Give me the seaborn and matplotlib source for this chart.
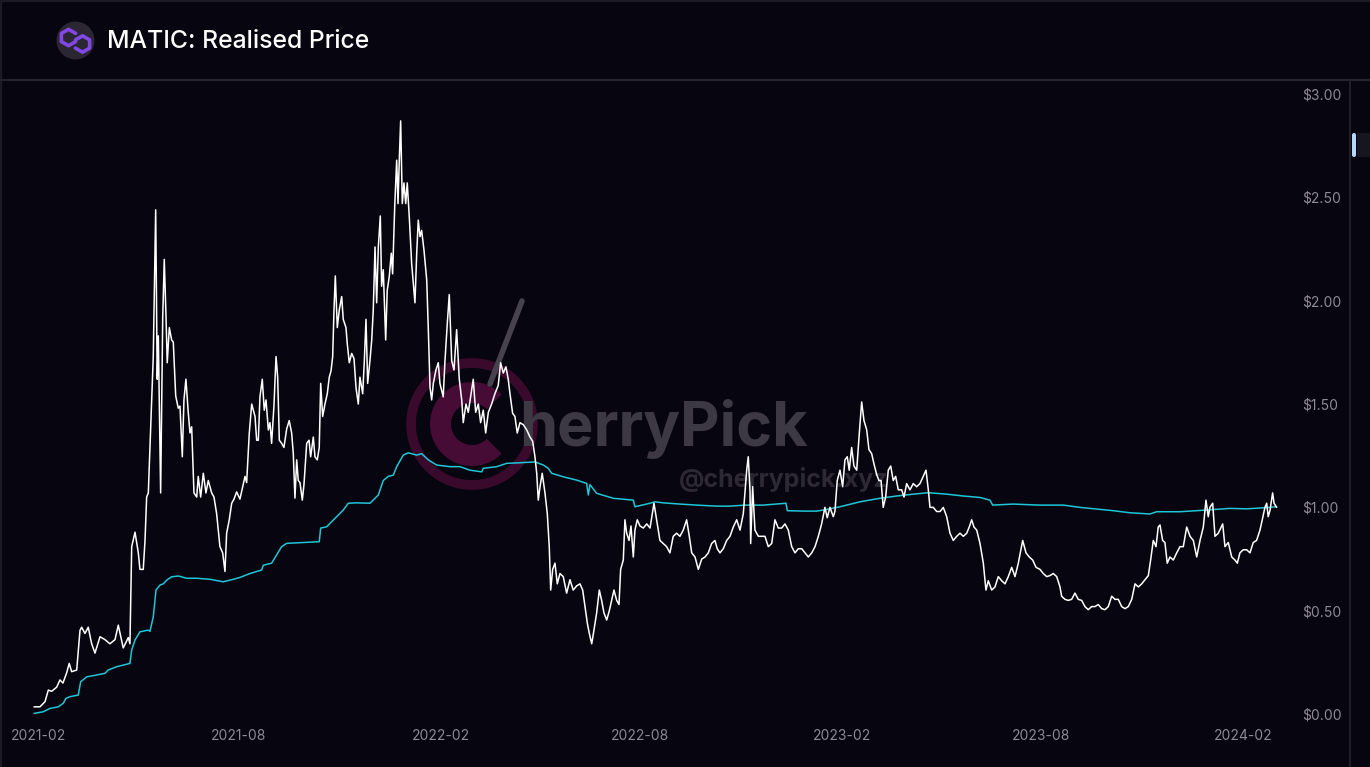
import numpy as np
import pandas as pd
import matplotlib
matplotlib.use('Agg')
import matplotlib.pyplot as plt
import matplotlib.patches as mpatches
from matplotlib.lines import Line2D
from matplotlib.ticker import FuncFormatter
import seaborn as sns

# ---------------------
# Data, days counted from 2021-02-01
# ---------------------
START = pd.Timestamp('2021-02-01')

price_day = [
    -4.5, 0.9, 5.5, 8.5, 11.5, 16.1, 19.1, 21.8, 25.2, 27.5, 29.7, 34.3, 37.3, 38.8, 41.8, 44.8,
    47.9, 50.9, 55.5, 60, 64.5, 69.1, 72.1, 76.6, 81.2, 82.7, 84.3, 87.3, 90.3, 91.8, 94.8, 96.4,
    97.9, 99.4, 102.5, 103.9, 106.1, 107.5, 108.5, 110.6, 112.5, 113.9, 115.5, 116.6, 118.5, 120.6,
    122.1, 124.3, 126.6, 128.2, 130.3, 131.8, 133.6, 135.7, 137.3, 138.8, 140.9, 143.4, 144.8, 147,
    149.4, 151.8, 153.9, 157, 159.1, 161.5, 164.5, 167, 169.1, 170.6, 173, 175.2, 177.3, 179.7, 182.7,
    187.3, 188.8, 191.2, 193.4, 196.4, 197.9, 199.4, 200.9, 203, 204.8, 206.4, 208.5, 210, 211.5,
    213.6, 215.5, 217, 218.5, 220.6, 222.7, 225.2, 227.5, 229.7, 231.2, 232.7, 234.3, 235.7, 237.3,
    239.4, 240.9, 243.4, 245.5, 247, 249.4, 250.9, 253, 254.8, 256.1, 257.9, 260, 262.1, 263.9,
    265.5, 267, 268.2, 269.4, 271.2, 273, 275.2, 276.6, 279.1, 280.3, 282.1, 284.3, 286.4, 288.2,
    290.3, 291.8, 294.3, 295.7, 297.3, 298.8, 300.9, 302.5, 303.9, 305.5, 307, 308.5, 310.3, 311.5,
    313, 315.2, 316.6, 318.5, 320.3, 321.5, 323.4, 325.2, 326.4, 327.5, 328.8, 330.3, 331.8, 333.4,
    334.8, 336.6, 338.8, 340.3, 341.8, 343.4, 344.8, 346.4, 347.9, 350, 352.5, 353.9, 355.5, 357,
    358.5, 360.9, 363, 364.5,
    367.5, 369.1, 371.2, 373, 375.2, 377.3, 379.7, 382.1, 384.3, 385.7, 388.2, 390.3, 393.4, 394.8,
    397, 399.4, 401.5, 403.9, 406.1, 408.5, 411.5, 414.5, 417.5, 419.7, 422.1, 424.5, 426.6, 428.2,
    430.6, 432.7, 434.8, 437.3, 440.3, 443.4, 446.4, 448.8, 450.9, 452.5, 453.9, 455.5, 457.5, 460,
    462.1, 463.9, 465.2, 467, 469.1, 471.2, 473.6, 476.6, 479.7, 482.7, 485.7, 488.8, 491.8, 494.3,
    496.4, 498.5, 500.3, 502.5, 504.5, 507, 509.4, 511.5, 513.6, 516.1, 518.5, 520.6, 522.7, 525.2,
    527.3, 528.8, 531.2, 532.7, 534.3, 536.4, 538.2, 540.3, 541.8, 543.9, 546.4,
    549.4, 552.5, 555.5, 559.1, 561.5, 564.5, 567.5, 570.6, 573.6, 576.6, 579.7, 582.7, 585.7, 588.8,
    591.2, 593.4, 596.4, 599.4, 602.5, 605.5, 608.5, 611.5, 614.5, 616.6, 619.1, 622.1, 625.2, 628.2,
    631.2, 634.3, 637.3, 640.3, 641.8, 643.4, 644.8, 646.4, 647, 648.8, 650.9, 654, 657, 660, 663,
    666.1, 669.1, 672.1, 675.2, 678.2, 681.2, 684.3, 687.3, 690.3, 693.4, 696.4, 699.4, 702.5, 705.5,
    708.5, 711.5, 714.5, 716.6, 719.1,
    722.1, 723.6, 725.7, 728.2, 730.6, 732.7, 734.8, 736.6, 738.8, 740.9, 743.4, 745.5, 747.9, 750,
    752.5, 754.5, 757, 759.1, 761.5, 763.6, 765.5, 767.5, 769.7, 772.1, 774.3, 776.6, 778.8, 781.2,
    784.3, 786.4, 788.8, 791.8, 794.8, 797.9, 800.9, 803.9, 806.4, 808.5, 810, 813, 816.1, 819.1,
    822.1, 825.2, 828.2, 831.2, 834.3, 837.3, 840.3, 843.4, 845.7, 847.9, 850, 852.5, 855.5, 858.5,
    860.9, 863, 866.1, 869.1, 872.1, 875.2, 878.2, 881.2, 884.3, 887.3, 890.3, 894.3, 897.3, 900.3,
    903.4, 906.4, 910,
    913, 916.1, 919.1, 922.1, 925.2, 928.2, 929.7, 932.7, 935.7, 938.8, 941.8, 944.8, 947.9, 950.9,
    953.9, 957, 960, 963, 966.1, 969.1, 972.1, 975.2, 978.2, 981.2, 984.3, 987.3, 990.3, 993.4,
    996.4, 999.4, 1002.5, 1005.5, 1008.5, 1010.6, 1013, 1015.5, 1017.5, 1019.1, 1021.5, 1023.6,
    1025.7, 1028.2, 1031.2, 1034.3, 1037.3, 1040.3, 1043.4, 1046.4, 1049.4, 1052.5, 1055.5, 1058.5,
    1060.9, 1063, 1064.5, 1067, 1069.1, 1072.1, 1076.1, 1078.2, 1081.2, 1084.3, 1087.3, 1089.4,
    1091.8, 1094.8, 1097.9, 1100.9, 1103.9, 1106.9, 1110, 1112.1, 1114.5, 1116.1, 1117.5, 1119.1,
    1121.5, 1122.8, 1125.2,
]

price_usd = [
    0.035, 0.035, 0.06, 0.116, 0.11, 0.13, 0.165, 0.15, 0.20, 0.245, 0.205, 0.213, 0.405, 0.42, 0.39, 0.42,
    0.34, 0.295, 0.374, 0.36, 0.34, 0.36, 0.43, 0.32, 0.37, 0.34, 0.81, 0.88, 0.78, 0.70, 0.70, 0.84,
    1.05, 1.07, 1.52, 1.73, 2.44, 1.62, 1.83, 1.07, 1.92, 2.20, 1.92, 1.70, 1.87, 1.81,
    1.80, 1.54, 1.48, 1.49, 1.245, 1.52, 1.62, 1.46, 1.36, 1.39, 1.07, 1.05, 1.15, 1.05,
    1.165, 1.07, 1.13, 1.07, 1.05, 0.97, 0.81, 0.78, 0.69, 0.875, 0.94, 1.02, 1.04, 1.075, 1.04,
    1.15, 1.12, 1.36, 1.50, 1.44, 1.325, 1.325, 1.535, 1.62, 1.47, 1.52, 1.375, 1.41, 1.31,
    1.49, 1.73, 1.63, 1.325, 1.31, 1.29, 1.38, 1.42, 1.36, 1.26, 1.045, 1.23, 1.13, 1.12,
    1.035, 1.11, 1.31, 1.325, 1.245, 1.34, 1.245, 1.23, 1.29, 1.60, 1.44, 1.50, 1.55, 1.63,
    1.66, 1.73, 1.955, 2.12, 1.87, 1.955, 2.02, 1.91, 1.87, 1.79, 1.70, 1.745, 1.72, 1.58,
    1.50, 1.63, 1.55, 1.70, 1.91, 1.60, 1.71, 1.81, 1.955, 2.26, 1.99, 2.26, 2.41, 2.07,
    2.15, 1.81, 2.05, 2.12, 2.23, 2.13, 2.455, 2.68, 2.47, 2.67, 2.87, 2.47, 2.57, 2.47,
    2.57, 2.41, 2.18, 2.085, 1.99, 2.23, 2.39, 2.31, 2.34, 2.245, 2.10, 1.87, 1.58, 1.52,
    1.60, 1.665, 1.70, 1.60,
    1.535, 1.71, 1.89, 2.03, 1.71, 1.665, 1.86, 1.62, 1.52, 1.41, 1.50, 1.46, 1.57, 1.62,
    1.46, 1.50, 1.41, 1.47, 1.36, 1.46, 1.50, 1.55, 1.59, 1.70, 1.65, 1.68, 1.62, 1.55,
    1.455, 1.44, 1.36, 1.41, 1.40, 1.375, 1.34, 1.32, 1.245, 1.165, 1.035, 1.10, 1.165, 1.07,
    0.97, 0.81, 0.60, 0.70, 0.73, 0.63, 0.68, 0.665, 0.585, 0.65, 0.60, 0.62, 0.63, 0.60,
    0.52, 0.44, 0.39, 0.34, 0.405, 0.49, 0.60, 0.55, 0.49, 0.455, 0.50, 0.55, 0.60, 0.55,
    0.53, 0.70, 0.745, 0.94, 0.875, 0.84, 0.91, 0.76, 0.89, 0.94, 0.91,
    0.90, 0.92, 0.90, 1.02, 0.94, 0.84, 0.825, 0.81, 0.78, 0.86, 0.875, 0.86, 0.89, 0.94,
    0.86, 0.78, 0.76, 0.70, 0.75, 0.76, 0.78, 0.825, 0.84, 0.80, 0.78, 0.80, 0.84, 0.86,
    0.905, 0.94, 0.89, 0.97, 1.07, 1.18, 1.245, 1.08, 0.825, 1.10, 0.89, 0.86, 0.86, 0.86, 0.81,
    0.825, 0.94, 0.90, 0.90, 0.92, 0.89, 0.81, 0.78, 0.80, 0.80, 0.78, 0.76, 0.78, 0.81,
    0.86, 0.92, 1.00, 0.95, 1.00,
    0.955, 0.98, 1.13, 1.18, 1.10, 1.23, 1.245, 1.18, 1.29, 1.20, 1.18, 1.34, 1.51, 1.42,
    1.375, 1.28, 1.26, 1.21, 1.16, 1.13, 1.13, 1.00, 1.05, 1.18, 1.20, 1.13, 1.15, 1.085,
    1.085, 1.05, 1.115, 1.085, 1.115, 1.10, 1.115, 1.15, 1.18, 1.085, 1.00, 1.00, 0.98, 0.98,
    1.00, 0.955, 0.875, 0.84, 0.86, 0.875, 0.86, 0.875, 0.905, 0.94, 0.905, 0.89, 0.825, 0.73,
    0.60, 0.645, 0.60, 0.615, 0.665, 0.645, 0.63, 0.665, 0.71, 0.665, 0.73, 0.84, 0.78, 0.76,
    0.745, 0.71, 0.70,
    0.68, 0.665, 0.67, 0.68, 0.665, 0.615, 0.57, 0.555, 0.55, 0.555, 0.585, 0.555, 0.55, 0.52,
    0.505, 0.52, 0.52, 0.53, 0.51, 0.505, 0.52, 0.57, 0.555, 0.555, 0.52, 0.51, 0.52, 0.555,
    0.63, 0.615, 0.63, 0.65, 0.67, 0.745, 0.84, 0.81, 0.905, 0.915, 0.84, 0.83,
    0.73, 0.76, 0.745, 0.78, 0.81, 0.81, 0.905, 0.86, 0.84, 0.76, 0.84, 0.905,
    1.035, 0.955, 1.00, 1.02, 0.86, 0.875, 0.92, 0.81, 0.83, 0.76, 0.745, 0.73,
    0.78, 0.795, 0.795, 0.78, 0.83, 0.84, 0.89, 0.94, 1.00, 1.02, 0.955, 0.985,
    1.07, 1.02, 1.00,
]

realised_day = [
    -4.5, 3.9, 10, 17.5, 22.1, 24.5, 28.2, 35.7, 37.9, 43.4, 52.5, 60, 63, 70.6, 82.7, 84.3, 87.3,
    91.8, 99.4, 100.9, 103.9, 106.4, 110, 113, 116.1, 120.6, 126.6, 134.3, 143.4, 155.5, 167.5,
    176.6, 182.7, 191.8, 202.5, 203.9, 211.5, 220.6, 225.2, 240.3, 254.8, 256.1, 261.5, 269.1,
    276.6, 281.2, 288.8, 300.9, 308.5, 313, 317.5, 322.1, 325.2, 331.2, 335.7, 343.4, 347.9,
    353.9, 361.5, 373.6, 382.7, 391.8, 402.5, 403.9, 416.1, 425.2, 437.3, 450.9, 458.5, 463,
    466.1, 476.6, 488.8, 497.9, 499.4, 500.9, 507, 522.1, 540.3, 541.8, 555.5, 560, 567.5,
    582.7, 597.9, 616.1, 628.2, 641.8, 658.5, 679.1, 680.3, 694.8, 707, 713, 728.2, 746.4,
    764.5, 779.7, 794.8, 808.5, 825.2, 840.3, 855.5, 864.5, 867, 885.7, 910, 931.2, 946.4,
    976.6, 991.8, 1010, 1016.1, 1037.3, 1052.5, 1082.7, 1097.9, 1113, 1125.2,
]

realised_usd = [
    0.003, 0.011, 0.027, 0.035, 0.052, 0.076, 0.084, 0.092, 0.156, 0.18, 0.189, 0.197, 0.213, 0.229,
    0.245, 0.31, 0.358, 0.398, 0.406, 0.40, 0.47, 0.60, 0.624, 0.63, 0.648, 0.664, 0.668, 0.657,
    0.657, 0.652, 0.64, 0.652, 0.661, 0.68, 0.697, 0.72, 0.73, 0.81, 0.826, 0.83, 0.834, 0.90,
    0.906, 0.947, 0.987, 1.02, 1.022, 1.02, 1.06, 1.13, 1.15, 1.156, 1.197, 1.253, 1.264, 1.253,
    1.26, 1.23, 1.205, 1.197, 1.197, 1.18, 1.172, 1.189, 1.197, 1.213, 1.216, 1.22, 1.205, 1.189,
    1.165, 1.148, 1.132, 1.116, 1.06, 1.11, 1.068, 1.044, 1.035, 1.003, 1.02, 1.027, 1.022,
    1.016, 1.011, 1.006, 1.006, 1.011, 1.011, 1.02, 0.984, 0.982, 0.982, 0.987, 1.003, 1.027,
    1.044, 1.055, 1.064, 1.071, 1.064, 1.055, 1.048, 1.035, 1.011, 1.016, 1.011, 1.011, 1.00,
    0.984, 0.974, 0.968, 0.979, 0.979, 0.984, 0.995, 0.993, 0.998, 1.003,
]

x_tick_dates = ['2021-02-01', '2021-08-01', '2022-02-01', '2022-08-01',
                '2023-02-01', '2023-08-01', '2024-02-01']
x_tick_labels = ['2021-02', '2021-08', '2022-02', '2022-08', '2023-02', '2023-08', '2024-02']
y_ticks = [0.0, 0.5, 1.0, 1.5, 2.0, 2.5, 3.0]

title_text = 'MATIC: Realised Price'
watermark_text = 'herryPick'
handle_text = '@cherrypick.xyz'

# ---------------------
# Styling
# ---------------------
BG = '#07050f'
W, H = 1370, 767

sns.set_style('dark')
plt.rcParams['font.family'] = ['Inter', 'DejaVu Sans']

price_df = pd.DataFrame({
    'date': START + pd.to_timedelta(price_day, unit='D'),
    'price': price_usd,
})
realised_df = pd.DataFrame({
    'date': START + pd.to_timedelta(realised_day, unit='D'),
    'realised': realised_usd,
})

fig = plt.figure(figsize=(W / 100, H / 100), dpi=100, facecolor=BG)

# overlay in pixel units for header, frame and watermark
bg_ax = fig.add_axes([0, 0, 1, 1], zorder=0)
bg_ax.set_xlim(0, W)
bg_ax.set_ylim(H, 0)
bg_ax.set_facecolor(BG)
bg_ax.axis('off')

# frame lines
bg_ax.add_line(Line2D([0, W], [0.8, 0.8], color='#1d1a27', lw=1.6))
bg_ax.add_line(Line2D([1.2, 1.2], [0, H], color='#1d1a27', lw=1.6))
bg_ax.add_line(Line2D([0, W], [79.5, 79.5], color='#25222f', lw=1.6))
bg_ax.add_line(Line2D([1350.5, 1350.5], [80, H], color='#25222f', lw=1.2))
bg_ax.add_patch(mpatches.FancyBboxPatch((1352, 133), 4, 24, boxstyle='round,pad=0,rounding_size=2',
                                        color='#b3d8ff', lw=0))
bg_ax.add_patch(mpatches.Rectangle((1357, 133), 13, 24, color='#17151f', lw=0))

# polygon logo
bg_ax.add_patch(mpatches.Circle((75.5, 40.5), 19, color='#2a2632', lw=0))
def hex_pts(cx, cy, r, skip):
    ang = np.deg2rad(np.arange(0, 360, 60) + 30)
    pts = [(cx + r * np.cos(a), cy + r * np.sin(a)) for a in ang]
    pts = pts[skip:] + pts[:skip]
    return np.array(pts)
left_hex = hex_pts(68.5, 37.5, 8.2, 0)
right_hex = hex_pts(82.5, 44.0, 8.2, 3)
for hx in (left_hex, right_hex):
    bg_ax.plot(hx[:, 0], hx[:, 1], color='#8247e5', lw=2.6, solid_joinstyle='round',
               solid_capstyle='round')

fig.text(107 / W, 1 - 41 / H, title_text, color='white', fontsize=17.8, va='center',
         ha='left', fontweight='medium')

# watermark
bg_ax.add_patch(mpatches.Circle((472, 424), 61, fill=False, ec='#3a0a2c', lw=7))
bg_ax.add_patch(mpatches.Wedge((472, 424), 42, 45, 315, width=21, color='#470c36', lw=0))
bg_ax.add_line(Line2D([490, 522], [384, 301], color='#46434e', lw=4, solid_capstyle='round'))
bg_ax.text(519, 446, watermark_text, color='#3c3944', fontsize=44, fontweight='bold',
           ha='left', va='baseline')
bg_ax.text(679, 480, handle_text, color='#2c2934', fontsize=18, fontweight='bold',
           ha='left', va='center')

# ---------------------
# Main chart
# ---------------------
ax = fig.add_axes([3 / W, 1 - 725 / H, (1290 - 3) / W, (725 - 80) / H], zorder=1)
ax.set_facecolor('none')

sns.lineplot(data=realised_df, x='date', y='realised', ax=ax, color='#1fc6d6', lw=1.1,
             estimator=None, sort=False)
sns.lineplot(data=price_df, x='date', y='price', ax=ax, color='white', lw=1.1,
             estimator=None, sort=False)

ax.set_xlim(START + pd.Timedelta(days=-32.7), START + pd.Timedelta(days=1137.3))
ax.set_ylim(-0.053, 3.068)

ax.set_xticks(pd.to_datetime(x_tick_dates))
ax.set_xticklabels(x_tick_labels)
ax.set_yticks(y_ticks)
ax.yaxis.set_major_formatter(FuncFormatter(lambda v, _: f'${v:.2f}'))
ax.yaxis.tick_right()
ax.tick_params(axis='both', length=0, colors='#8d8a96', labelsize=10)
ax.tick_params(axis='y', pad=9)
ax.tick_params(axis='x', pad=3)
ax.set_xlabel('')
ax.set_ylabel('')
ax.grid(False)
for s in ax.spines.values():
    s.set_visible(False)

fig.savefig('out.png', dpi=100, facecolor=BG)
